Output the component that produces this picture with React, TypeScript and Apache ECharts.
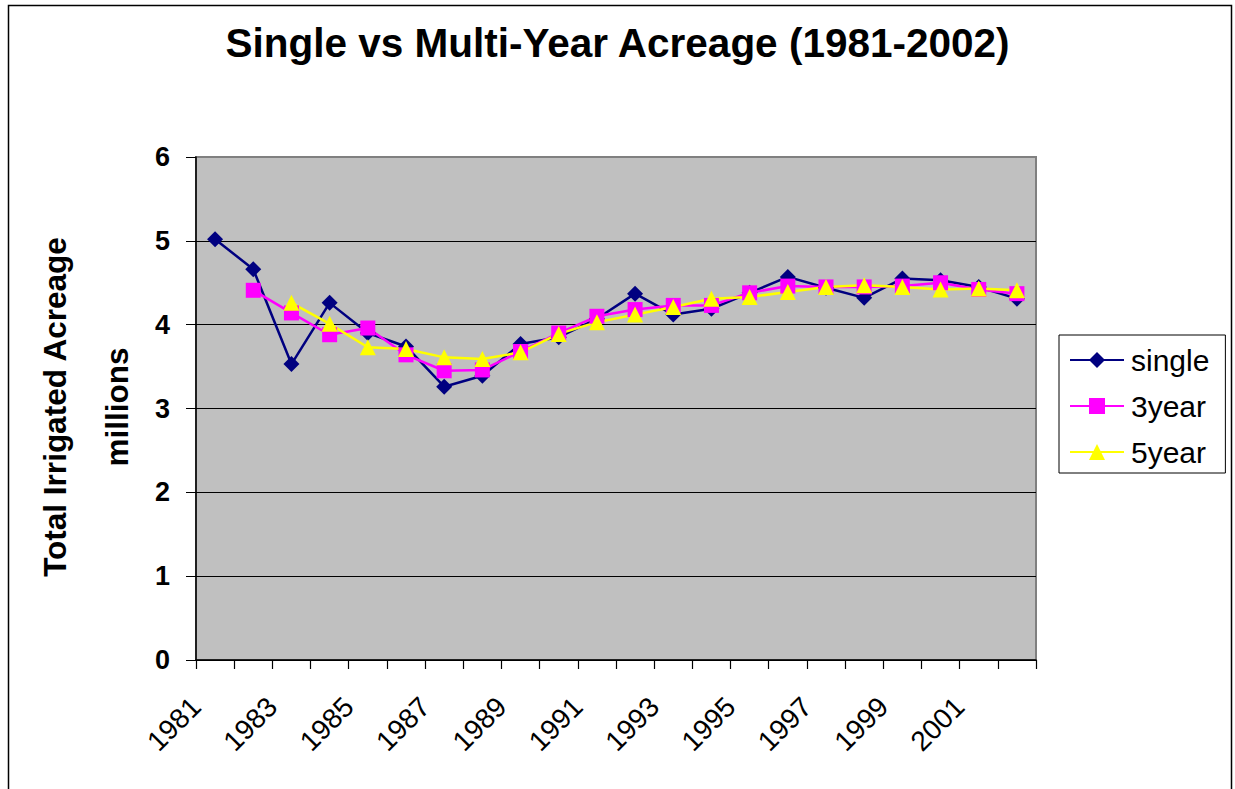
import React, { useEffect, useRef } from "react";
import * as echarts from "echarts";

const years = [
  "1981", "1982", "1983", "1984", "1985", "1986", "1987", "1988", "1989", "1990", "1991",
  "1992", "1993", "1994", "1995", "1996", "1997", "1998", "1999", "2000", "2001", "2002",
];

const single = [
  5.02, 4.66, 3.53, 4.26, 3.9, 3.74, 3.26, 3.39, 3.77, 3.85, 4.07,
  4.37, 4.12, 4.19, 4.38, 4.57, 4.44, 4.32, 4.55, 4.53, 4.45, 4.31,
];

const threeYear = [
  null, 4.41, 4.14, 3.88, 3.96, 3.64, 3.45, 3.46, 3.68, 3.9, 4.1,
  4.18, 4.23, 4.23, 4.38, 4.46, 4.45, 4.45, 4.46, 4.5, 4.42, 4.37,
];

const fiveYear = [
  null, null, 4.26, 4.01, 3.73, 3.71, 3.61, 3.59, 3.67, 3.89, 4.03,
  4.12, 4.21, 4.31, 4.33, 4.39, 4.45, 4.47, 4.45, 4.42, 4.43, 4.41,
];

const yTicks = [0, 1, 2, 3, 4, 5, 6];

const FONT = "Liberation Sans, Arial, sans-serif";

export default function App() {
  const ref = useRef<HTMLDivElement>(null);

  useEffect(() => {
    if (!ref.current) return;
    const chart = echarts.init(ref.current, undefined, { renderer: "svg" });
    chart.setOption({
      animation: false,
      backgroundColor: "#ffffff",
      title: {
        text: "Single vs Multi-Year Acreage (1981-2002)",
        left: "center",
        top: 17,
        textStyle: { fontFamily: FONT, fontSize: 40.5, fontWeight: "bold", color: "#000" },
      },
      graphic: [
        {
          type: "rect",
          shape: { x: 8.5, y: 5.5, width: 1223, height: 800 },
          style: { fill: "none", stroke: "#000", lineWidth: 1.5 },
          silent: true,
        },
        {
          type: "text",
          x: 55,
          y: 407,
          rotation: Math.PI / 2,
          style: {
            text: "Total Irrigated Acreage",
            font: `bold 31.5px ${FONT}`,
            fill: "#000",
            align: "center",
            verticalAlign: "middle",
          },
        },
        {
          type: "text",
          x: 117,
          y: 407,
          rotation: Math.PI / 2,
          style: {
            text: "millions",
            font: `bold 31.5px ${FONT}`,
            fill: "#000",
            align: "center",
            verticalAlign: "middle",
          },
        },
      ],
      legend: {
        orient: "vertical",
        left: 1059,
        top: 335,
        padding: [10, 16, 6, 10],
        itemGap: 16,
        itemWidth: 54,
        itemHeight: 20,
        borderColor: "#000",
        borderWidth: 1,
        backgroundColor: "#fff",
        textStyle: { fontFamily: FONT, fontSize: 30, color: "#000", padding: [0, 0, 0, 2] },
        data: ["single", "3year", "5year"],
      },
      grid: {
        left: 196,
        top: 157,
        width: 840,
        height: 503,
        show: true,
        backgroundColor: "#C0C0C0",
        borderColor: "#808080",
        borderWidth: 2,
        containLabel: false,
      },
      xAxis: {
        type: "category",
        data: years,
        boundaryGap: true,
        axisLine: { show: true, lineStyle: { color: "#000", width: 1.5 } },
        axisTick: { show: true, interval: 0, length: 9, lineStyle: { color: "#000", width: 1.2 } },
        axisLabel: {
          interval: 1,
          rotate: 45,
          margin: 61,
          verticalAlign: "bottom",
          lineHeight: 54,
          fontFamily: FONT,
          fontSize: 28,
          color: "#000",
        },
        splitLine: { show: false },
      },
      yAxis: {
        type: "value",
        min: yTicks[0],
        max: yTicks[yTicks.length - 1],
        interval: 1,
        axisLine: { show: true, lineStyle: { color: "#000", width: 1.5 } },
        axisTick: { show: true, length: 10, lineStyle: { color: "#000" } },
        axisLabel: {
          margin: 26,
          fontFamily: FONT,
          fontSize: 27,
          fontWeight: "bold",
          color: "#000",
        },
        splitLine: {
          show: true,
          lineStyle: { color: ["#000", "#000", "#000", "#000", "#000", "#000", "#808080"], width: 1 },
        },
      },
      series: [
        {
          name: "single",
          type: "line",
          data: single,
          symbol: "diamond",
          symbolSize: 16,
          color: "#000080",
          lineStyle: { color: "#000080", width: 2.5 },
          itemStyle: { color: "#000080" },
        },
        {
          name: "3year",
          type: "line",
          data: threeYear,
          symbol: "rect",
          symbolSize: 15,
          color: "#FF00FF",
          lineStyle: { color: "#FF00FF", width: 2.5 },
          itemStyle: { color: "#FF00FF" },
        },
        {
          name: "5year",
          type: "line",
          data: fiveYear,
          symbol: "triangle",
          symbolSize: 16,
          color: "#FFFF00",
          lineStyle: { color: "#FFFF00", width: 2.5 },
          itemStyle: { color: "#FFFF00" },
        },
      ],
    });
    return () => chart.dispose();
  }, []);

  return (
    <div
      ref={ref}
      style={{ position: "absolute", left: 0, top: 0, width: 1235, height: 789 }}
    />
  );
}
